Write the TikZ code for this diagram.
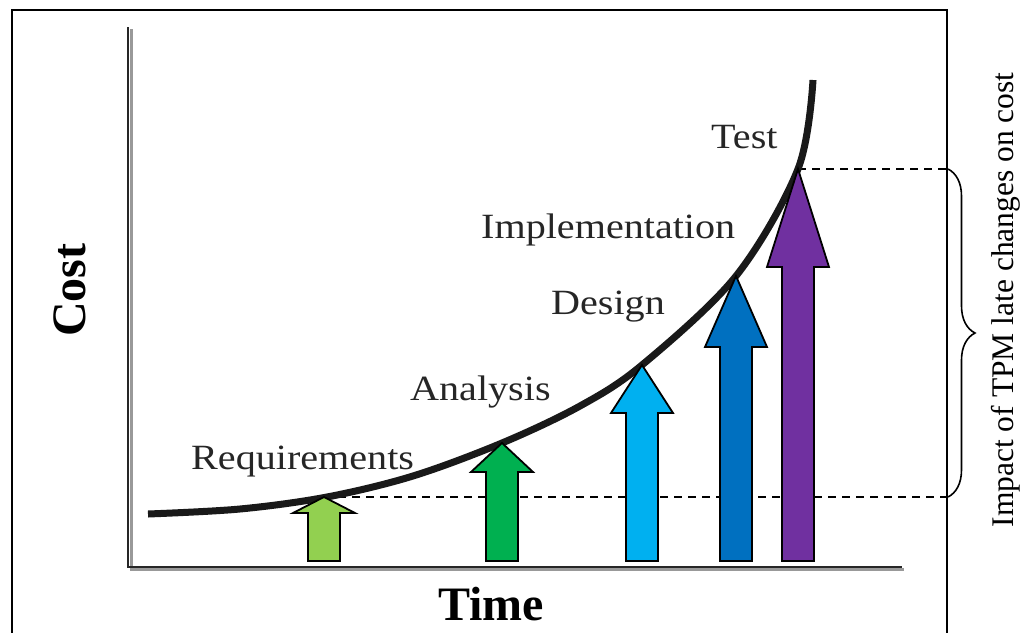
\documentclass[tikz,border=0pt]{standalone}
\usepackage{fontspec}
\setmainfont{Liberation Serif}
\newfontfamily\stagefont{Liberation Serif}[FakeStretch=1.13]
\usetikzlibrary{decorations.pathreplacing}

\definecolor{reqgreen}{HTML}{92D050}
\definecolor{anagreen}{HTML}{00B050}
\definecolor{desblue}{HTML}{00B0F0}
\definecolor{impblue}{HTML}{0070C0}
\definecolor{testpurple}{HTML}{7030A0}

\tikzset{
  frameline/.style={line width=2.8pt, black},
  axisline/.style={line width=2.8pt, black!85},
  axisshadow/.style={line width=3pt, black!40},
  costcurve/.style={line width=7pt, black!90},
  dashline/.style={line width=1.6pt, dash pattern=on 8pt off 6pt},
  arrowbody/.style={line width=1.8pt, draw=black, line join=miter},
  stagelabel/.style={inner sep=0pt, anchor=base west, text=black!85,
    font=\stagefont\fontsize{35.5}{40}\selectfont},
  axislabel/.style={inner sep=0pt, font=\bfseries\fontsize{48}{54}\selectfont},
  bracelabel/.style={inner sep=0pt, rotate=90, font=\fontsize{31.5}{36}\selectfont},
}

% block arrow: name, centre x, tip y, head base y, fill colour
\newcommand\phasearrow[5]{%
  \coordinate (#1) at (#2,#3);
  \filldraw[arrowbody, fill=#5]
    (#2-16,561) -- (#2-16,#4) -- (#2-31,#4) -- (#1) -- (#2+31,#4)
    -- (#2+16,#4) -- (#2+16,561) -- cycle;
}

\begin{document}
\begin{tikzpicture}[x=1pt, y=-1pt]
\useasboundingbox (0,0) rectangle (1028,632);

% outer frame (open at the bottom)
\draw[frameline] (12,634) -- (12,10) -- (947,10) -- (947,634);

% axes with a soft shadow
\draw[axisshadow] (131,29) -- (131,569) -- (904,569);
\draw[axisline] (128,27) -- (128,567) -- (902,567);

% axis titles
\node[axislabel, rotate=90] (cost) at (70,290) {Cost};
\node[axislabel, anchor=base] (time) at (491,620) {Time};

% reference levels at the first and last phase
\coordinate (lowedge) at (948,497);
\coordinate (highedge) at (948,169);
\draw[dashline] (324,497) -- (lowedge);
\draw[dashline] (798,169) -- (highedge);

% cost-of-change curve
\draw[costcurve] plot[smooth, tension=0.55] coordinates {
  (148,514) (240,509) (327,497) (413,476) (502,443) (580,406)
  (642,365) (736,276) (798,169) (813,80)};

% phase arrows
\phasearrow{req}{324}{497}{513}{reqgreen}
\phasearrow{ana}{502}{443}{472}{anagreen}
\phasearrow{des}{642}{365}{413}{desblue}
\phasearrow{imp}{736}{276}{347}{impblue}
\phasearrow{tst}{798}{169}{267}{testpurple}

% phase labels
\node[stagelabel] (lreq) at (191,469) {Requirements};
\node[stagelabel] (lana) at (410,400) {Analysis};
\node[stagelabel] (ldes) at (551,314) {Design};
\node[stagelabel] (limp) at (481,238) {Implementation};
\node[stagelabel] (ltst) at (711,148) {Test};

% brace spanning the cost increase
\draw[decorate, decoration={brace, amplitude=27pt}, line width=1.6pt]
  (highedge) -- (lowedge);
\node[bracelabel] (impact) at (1006,300) {Impact of TPM late changes on cost};
\end{tikzpicture}
\end{document}
